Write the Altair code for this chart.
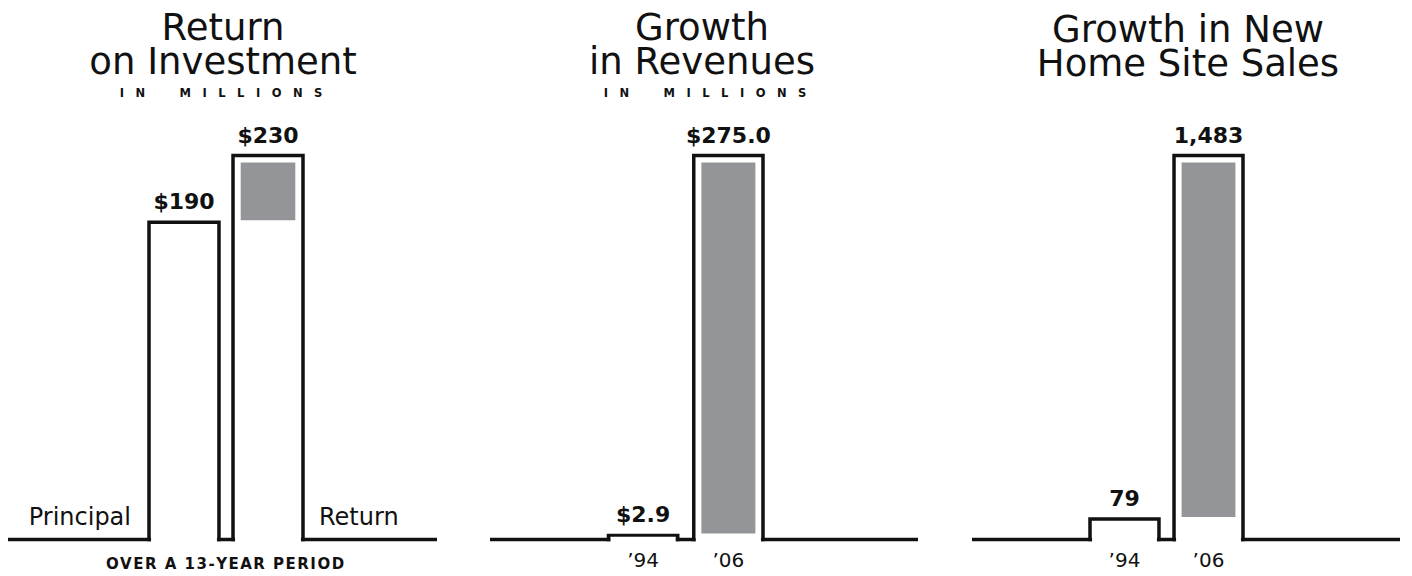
import altair as alt
import pandas as pd

# ---- data ----
roi_categories = ["Principal", "Return"]
roi_values = [190, 230]
roi_labels = ["$190", "$230"]

rev_categories = ["\u201994", "\u201906"]
rev_values = [2.9, 275.0]
rev_labels = ["$2.9", "$275.0"]

site_categories = ["\u201994", "\u201906"]
site_values = [79, 1483]
site_labels = ["79", "1,483"]

titles = [["Return", "on Investment"], ["Growth", "in Revenues"], ["Growth in New", "Home Site Sales"]]
unit_note = "IN MILLIONS"
period_note = "OVER A 13-YEAR PERIOD"

# ---- style ----
FONT = "DejaVu Sans"
INK = "#111111"
GRAY = "#939598"
SW = 3.5
EM = "\u2003"
HAIR = "\u200a"


def spaced(text, gap=EM, word_gap=3):
    words = text.split(" ")
    return (gap * word_gap).join(gap.join(list(w)) for w in words)


def panel(cats, vals, labels, x_range, pad_inner, base_x, title, title_x, title_y,
          sub=None, side_labels=False):
    df = pd.DataFrame({"cat": cats, "value": vals, "label": labels})
    gray_df = pd.DataFrame({"cat": [cats[1]], "lo": [vals[0]], "hi": [vals[1]]})
    xs = alt.Scale(type="band", domain=cats, range=x_range, paddingInner=pad_inner, paddingOuter=0)
    ys = alt.Scale(domain=[0, max(vals)], range=[531.5, 147.5], nice=False, zero=True)
    X = alt.X("cat:N", scale=xs, axis=None)
    Y = alt.Y("value:Q", scale=ys, axis=None)

    base = alt.Chart(df)
    one = alt.Chart(pd.DataFrame({"k": [0]}))

    baseline = one.mark_rule(color=INK, strokeWidth=SW).encode(
        x=alt.value(base_x[0]), x2=alt.value(base_x[1]), y=alt.Y("k:Q", scale=ys, axis=None)
    )
    bars = base.mark_bar(fill="white", stroke=INK, strokeWidth=SW, strokeJoin="miter").encode(x=X, y=Y)
    mask = base.mark_rule(color="white", strokeWidth=SW + 2, xOffset=SW / 2 + 0.3,
                          x2Offset=-(SW / 2 + 0.3)).encode(
        x=alt.X("cat:N", bandPosition=0),
        x2=alt.X2("cat:N", bandPosition=1),
        y=alt.datum(0),
    )
    gray = alt.Chart(gray_df).mark_bar(color=GRAY, yOffset=-2, y2Offset=7,
                                       width=alt.RelativeBandSize(0.78)).encode(
        x="cat:N", y="lo:Q", y2="hi:Q"
    )
    value_text = base.mark_text(font=FONT, fontSize=22, fontWeight="bold", baseline="alphabetic",
                                dy=-13, color=INK).encode(x="cat:N", y="value:Q", text="label:N")
    layers = [baseline, bars, mask, gray, value_text]

    if side_labels:
        left = alt.Chart(df.iloc[[0]]).mark_text(font=FONT, fontSize=24, align="right", baseline="alphabetic",
                                                 dx=-18, dy=-14.5, color=INK).encode(
            x=alt.X("cat:N", bandPosition=0), y=alt.datum(0), text="cat:N")
        right = alt.Chart(df.iloc[[1]]).mark_text(font=FONT, fontSize=24, align="left", baseline="alphabetic",
                                                  dx=16, dy=-14.5, color=INK).encode(
            x=alt.X("cat:N", bandPosition=1), y=alt.datum(0), text="cat:N")
        layers += [left, right]
    else:
        cat_text = base.mark_text(font=FONT, fontSize=20, baseline="alphabetic", dy=27, color=INK).encode(
            x="cat:N", y=alt.datum(0), text="cat:N")
        layers.append(cat_text)

    title_mark = one.mark_text(font=FONT, fontSize=37, baseline="alphabetic", lineHeight=34.7,
                               color=INK).encode(
        x=alt.value(title_x), y=alt.value(title_y), text=alt.value(title))
    layers.append(title_mark)
    if sub:
        sub_mark = one.mark_text(font=FONT, fontSize=11.5, fontWeight="bold", baseline="alphabetic",
                                 color=INK).encode(
            x=alt.value(sub[0]), y=alt.value(89), text=alt.value(spaced(unit_note)))
        layers.append(sub_mark)
    return alt.layer(*layers)


p1 = panel(roi_categories, roi_values, roi_labels, [141, 295], 0.167, [0, 429],
           titles[0], 215, 31.5, sub=(213,), side_labels=True)
foot = alt.Chart(pd.DataFrame({"k": [0]})).mark_text(
    font=FONT, fontSize=15, fontWeight="bold", baseline="alphabetic", color=INK).encode(
    x=alt.value(217), y=alt.value(561), text=alt.value(HAIR.join(list(period_note))))
p1 = alt.layer(p1, foot)
p2 = panel(rev_categories, rev_values, rev_labels, [600.5, 755], 0.188, [482, 910],
           titles[1], 694, 31.5, sub=(697,))
p3 = panel(site_categories, site_values, site_labels, [1082, 1235], 0.179, [964, 1392],
           titles[2], 1180, 33.5)

chart = alt.layer(p1, p2, p3).resolve_scale(x="independent", y="independent").properties(
    width=1396, height=566, padding=0, autosize=alt.AutoSizeParams(type="none")
).configure_view(stroke=None)

chart.save("out.html", embed_options={"renderer": "svg", "actions": False})
